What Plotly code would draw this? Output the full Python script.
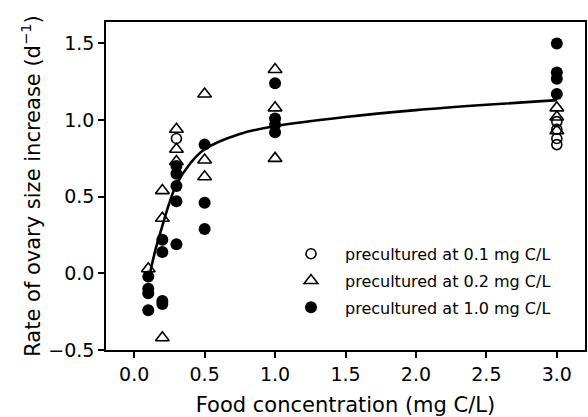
import plotly.graph_objects as go

# Food concentration (mg C/L) and ovary growth rate (1/d) per preculture level
pre01_x = [0.3, 3.0, 3.0, 3.0, 3.0]
pre01_y = [0.88, 0.99, 0.94, 0.88, 0.84]

pre02_x = [0.1, 0.2, 0.2, 0.2, 0.3, 0.3, 0.3, 0.5, 0.5, 0.5, 1.0, 1.0, 1.0, 3.0, 3.0, 3.0]
pre02_y = [0.03, 0.54, 0.36, -0.42, 0.94, 0.81, 0.73, 1.17, 0.74, 0.63, 1.33, 1.08, 0.75, 1.08, 1.02, 0.93]

pre10_x = [0.1, 0.1, 0.1, 0.1, 0.2, 0.2, 0.2, 0.2, 0.3, 0.3, 0.3, 0.3, 0.3,
           0.5, 0.5, 0.5, 1.0, 1.0, 1.0, 1.0, 3.0, 3.0, 3.0, 3.0]
pre10_y = [-0.02, -0.10, -0.13, -0.24, 0.22, 0.14, -0.18, -0.20, 0.70, 0.65, 0.57, 0.47, 0.19,
           0.84, 0.46, 0.29, 1.24, 1.01, 0.97, 0.92, 1.50, 1.31, 1.27, 1.17]

# Fitted response curve
fit_x = [0.1, 0.15, 0.2, 0.25, 0.3, 0.4, 0.5, 0.75, 1.0, 1.5, 2.0, 2.5, 3.0]
fit_y = [-0.05, 0.15, 0.31, 0.46, 0.58, 0.72, 0.81, 0.91, 0.96, 1.02, 1.065, 1.10, 1.13]

x_ticks = [0.0, 0.5, 1.0, 1.5, 2.0, 2.5, 3.0]
y_ticks = [-0.5, 0.0, 0.5, 1.0, 1.5]

FONT = "DejaVu Sans"

fig = go.Figure()
fig.add_trace(go.Scatter(
    x=pre01_x, y=pre01_y, mode="markers", name="precultured at 0.1 mg C/L",
    legendgroup="a",
    marker=dict(symbol="circle-open", size=10, color="black", line=dict(width=1.6)),
))
fig.add_trace(go.Scatter(
    x=pre02_x, y=pre02_y, mode="markers", name="precultured at 0.2 mg C/L",
    legendgroup="b",
    marker=dict(symbol="triangle-up-open", size=12, color="black", line=dict(width=1.6)),
))
fig.add_trace(go.Scatter(
    x=pre10_x, y=pre10_y, mode="markers", name="precultured at 1.0 mg C/L",
    legendgroup="c",
    marker=dict(symbol="circle", size=12, color="black"),
))
fig.add_trace(go.Scatter(
    x=fit_x, y=fit_y, mode="lines", showlegend=False,
    line=dict(color="black", width=2.6, shape="spline", smoothing=1.0),
))

axis_common = dict(
    showline=True, linecolor="black", linewidth=1.5, mirror=True,
    ticks="outside", ticklen=6, tickwidth=1.5, tickcolor="black",
    showgrid=False, zeroline=False,
    tickfont=dict(family=FONT, size=19, color="black"),
)

fig.update_xaxes(
    range=[-0.2, 3.2], tickvals=x_ticks, ticktext=[f"{v:.1f}" for v in x_ticks],
    title=dict(text="Food concentration (mg C/L)", font=dict(family=FONT, size=21, color="black"),
               standoff=15),
    **axis_common,
)
fig.update_yaxes(
    range=[-0.5, 1.64], tickvals=y_ticks,
    ticktext=[f"{v:.1f}".replace("-", "\u2212") for v in y_ticks],
    title=dict(text="Rate of ovary size increase (d<sup>\u22121</sup>)",
               font=dict(family=FONT, size=21, color="black"), standoff=2),
    **axis_common,
)

fig.update_layout(
    width=588, height=417,
    margin=dict(l=106, r=3, t=22, b=67, autoexpand=False),
    paper_bgcolor="white", plot_bgcolor="white",
    font=dict(family=FONT, color="black"),
    showlegend=True,
    legend=dict(
        x=0.357, y=0.345, xanchor="left", yanchor="top",
        font=dict(family=FONT, size=16, color="black"),
        bgcolor="rgba(0,0,0,0)", borderwidth=0,
        itemwidth=58, tracegroupgap=3,
    ),
)

fig.write_html("out.html")
